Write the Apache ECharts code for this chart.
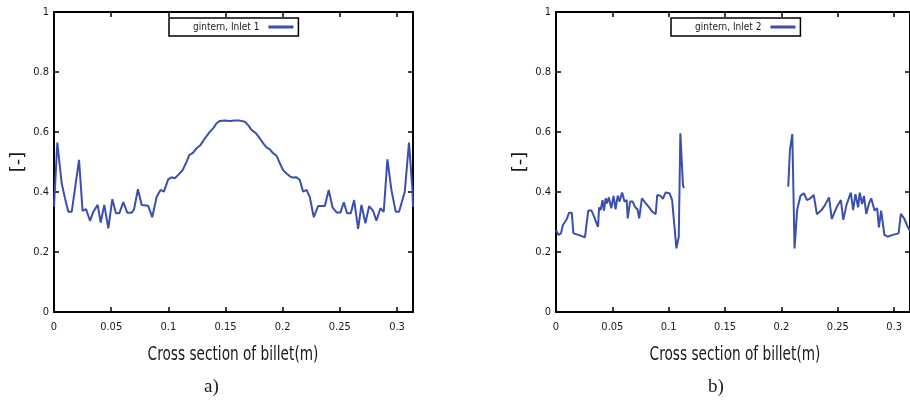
<!DOCTYPE html>
<html>
<head>
<meta charset="utf-8">
<script src="https://cdn.jsdelivr.net/npm/echarts@6/dist/echarts.min.js"></script>
<style>
html,body{margin:0;padding:0;background:#fff;}
#c{width:910px;height:405px;}
</style>
</head>
<body>
<div id="c"></div>
<script>
// ---- Data ----
const xTicks = [0, 0.05, 0.1, 0.15, 0.2, 0.25, 0.3];
const yTicks = [0, 0.2, 0.4, 0.6, 0.8, 1];
const xMax = 0.314;

const inlet1Name = 'gintern, Inlet 1';
const inlet2Name = 'gintern, Inlet 2';

const inlet1X = [0,0.0029,0.0067,0.0096,0.0125,0.0155,0.0219,0.025,0.028,0.0315,0.0344,0.0382,0.0408,0.044,0.0475,0.051,0.0542,0.0571,0.0606,0.0641,0.0679,0.07,0.0734,0.0767,0.0824,0.0859,0.0898,0.0932,0.0961,0.0999,0.1028,0.1057,0.1087,0.1125,0.116,0.1183,0.1218,0.1247,0.1282,0.132,0.1357,0.1392,0.1422,0.1451,0.1494,0.1538,0.1582,0.1626,0.1669,0.1698,0.1728,0.1766,0.18,0.183,0.1859,0.1888,0.1917,0.1946,0.1975,0.2004,0.2034,0.2069,0.2092,0.2121,0.215,0.2179,0.2209,0.2237,0.2272,0.231,0.2369,0.2403,0.2436,0.2471,0.2506,0.2535,0.2563,0.2596,0.2625,0.266,0.2689,0.2724,0.2756,0.2791,0.282,0.2855,0.2884,0.2916,0.2951,0.2989,0.3018,0.3068,0.3105,0.3135,0.314];
const inlet1Y = [0.351,0.565,0.429,0.379,0.334,0.334,0.507,0.337,0.343,0.304,0.334,0.357,0.298,0.357,0.279,0.376,0.329,0.329,0.366,0.331,0.331,0.342,0.409,0.357,0.354,0.316,0.384,0.407,0.401,0.442,0.449,0.446,0.457,0.473,0.501,0.523,0.531,0.546,0.557,0.579,0.598,0.612,0.629,0.637,0.638,0.637,0.638,0.638,0.634,0.623,0.607,0.596,0.579,0.562,0.549,0.542,0.529,0.521,0.496,0.473,0.462,0.451,0.448,0.449,0.44,0.401,0.407,0.384,0.316,0.353,0.353,0.407,0.349,0.332,0.332,0.366,0.329,0.329,0.373,0.277,0.357,0.296,0.353,0.337,0.304,0.346,0.334,0.509,0.407,0.334,0.334,0.401,0.565,0.407,0.35];

const inlet2aX = [0,0.0023,0.0044,0.0061,0.0081,0.0096,0.011,0.0116,0.014,0.0154,0.0198,0.0228,0.0257,0.0286,0.0315,0.0338,0.0359,0.0373,0.0382,0.0397,0.0412,0.0426,0.044,0.0452,0.0469,0.049,0.0511,0.0528,0.0548,0.0563,0.0587,0.0607,0.0627,0.0636,0.0657,0.068,0.0703,0.0723,0.0738,0.0762,0.0797,0.0826,0.0855,0.0884,0.0898,0.0928,0.0948,0.0972,0.1007,0.103,0.1051,0.1068,0.1089,0.1103,0.1126,0.1135];
const inlet2aY = [0.273,0.257,0.262,0.29,0.301,0.31,0.312,0.331,0.331,0.262,0.257,0.253,0.249,0.338,0.338,0.318,0.296,0.284,0.348,0.34,0.373,0.338,0.379,0.362,0.382,0.346,0.387,0.342,0.388,0.368,0.398,0.368,0.373,0.312,0.368,0.368,0.349,0.342,0.312,0.379,0.362,0.349,0.334,0.326,0.39,0.387,0.377,0.398,0.396,0.373,0.284,0.212,0.251,0.596,0.423,0.413];

const inlet2bX = [0.206,0.2075,0.2096,0.2116,0.2139,0.2168,0.2198,0.2227,0.2256,0.2286,0.2314,0.2352,0.2387,0.2422,0.2446,0.2489,0.2527,0.2548,0.2577,0.2615,0.2636,0.2656,0.268,0.2694,0.2715,0.2732,0.2752,0.2776,0.2796,0.2825,0.2849,0.2864,0.2884,0.2913,0.2942,0.2986,0.3039,0.3059,0.3088,0.3112,0.314];
const inlet2bY = [0.418,0.54,0.593,0.212,0.34,0.387,0.396,0.373,0.379,0.39,0.326,0.338,0.357,0.382,0.31,0.349,0.373,0.307,0.357,0.398,0.34,0.393,0.349,0.398,0.36,0.387,0.327,0.362,0.379,0.338,0.346,0.282,0.338,0.257,0.251,0.257,0.262,0.327,0.312,0.29,0.27];

const xTitle = 'Cross section of billet(m)';
const yTitle = '[-]';
const captions = ['a)', 'b)'];

// ---- Build ----
const zip = (xs, ys) => xs.map((x, i) => [x, ys[i]]);
const lineColor = '#3b4fae';
const narrow = "'DejaVu Sans Condensed', 'Liberation Sans Narrow', sans-serif";
const txt = '#1a1a1a';

const grids = [
  {left: 54, top: 12, width: 359, height: 300},
  {left: 556, top: 12, width: 359, height: 300}
];

function xAx(gi, bottom) {
  return {
    type: 'value', gridIndex: gi, min: 0, max: xMax, interval: 0.05,
    position: bottom ? 'bottom' : 'top',
    axisLine: {show: true, onZero: false, lineStyle: {color: '#000', width: 2}},
    axisTick: {show: true, inside: true, length: 5, lineStyle: {color: '#000', width: 1.5}},
    axisLabel: {show: bottom, showMaxLabel: false, margin: 10, fontFamily: narrow, fontSize: 11, color: txt,
      formatter: v => String(+v.toFixed(3))},
    splitLine: {show: false}
  };
}
function yAx(gi, left) {
  return {
    type: 'value', gridIndex: gi, min: 0, max: 1, interval: 0.2,
    position: left ? 'left' : 'right',
    name: left ? yTitle : '', nameLocation: 'middle', nameGap: 27, nameRotate: 90,
    nameTextStyle: {fontFamily: "'DejaVu Sans', sans-serif", fontSize: 18, color: txt},
    axisLine: {show: true, onZero: false, lineStyle: {color: '#000', width: 2}},
    axisTick: {show: true, inside: true, length: 5, lineStyle: {color: '#000', width: 1.5}},
    axisLabel: {show: left, margin: 5, fontFamily: narrow, fontSize: 11, color: txt,
      formatter: v => String(+v.toFixed(2))},
    splitLine: {show: false}
  };
}

const legendCommon = {
  top: 18, orient: 'horizontal', align: 'right',
  icon: 'rect', itemWidth: 25, itemHeight: 3, itemGap: 0,
  padding: [2, 5, 2, 24],
  borderColor: '#000', borderWidth: 1.5, borderRadius: 0,
  backgroundColor: '#fff',
  textStyle: {fontFamily: narrow, fontSize: 10, color: txt, padding: [0, 4, 0, 0], lineHeight: 14}
};

const titleStyle = {text: xTitle, font: "19px 'DejaVu Sans Condensed', sans-serif", fill: txt,
  textAlign: 'center', textVerticalAlign: 'middle'};

const option = {
  animation: false,
  backgroundColor: '#fff',
  grid: grids,
  xAxis: [xAx(0, true), xAx(0, false), xAx(1, true), xAx(1, false)],
  yAxis: [yAx(0, true), yAx(0, false), yAx(1, true), yAx(1, false)],
  legend: [
    Object.assign({}, legendCommon, {left: 169, data: [inlet1Name]}),
    Object.assign({}, legendCommon, {left: 671, data: [inlet2Name]})
  ],
  series: [
    {name: inlet1Name, type: 'line', xAxisIndex: 0, yAxisIndex: 0, data: zip(inlet1X, inlet1Y),
     showSymbol: false, symbol: 'none', lineStyle: {color: lineColor, width: 2}, itemStyle: {color: lineColor}, z: 1},
    {name: inlet2Name, type: 'line', xAxisIndex: 2, yAxisIndex: 2, data: zip(inlet2aX, inlet2aY),
     showSymbol: false, symbol: 'none', lineStyle: {color: lineColor, width: 2}, itemStyle: {color: lineColor}, z: 1},
    {name: inlet2Name, type: 'line', xAxisIndex: 2, yAxisIndex: 2, data: zip(inlet2bX, inlet2bY),
     showSymbol: false, symbol: 'none', lineStyle: {color: lineColor, width: 2}, itemStyle: {color: lineColor}, z: 1}
  ],
  graphic: [
    {type: 'text', x: 233, y: 355, scaleX: 0.8, style: Object.assign({}, titleStyle)},
    {type: 'text', x: 735, y: 355, scaleX: 0.8, style: Object.assign({}, titleStyle)},
    {type: 'text', left: 204, top: 378, style: {text: captions[0], font: "19px 'Liberation Serif', serif", fill: txt}},
    {type: 'text', left: 708, top: 378, style: {text: captions[1], font: "19px 'Liberation Serif', serif", fill: txt}}
  ]
};

const chart = echarts.init(document.getElementById('c'), null, {renderer: 'canvas'});
chart.setOption(option);
</script>
</body>
</html>
